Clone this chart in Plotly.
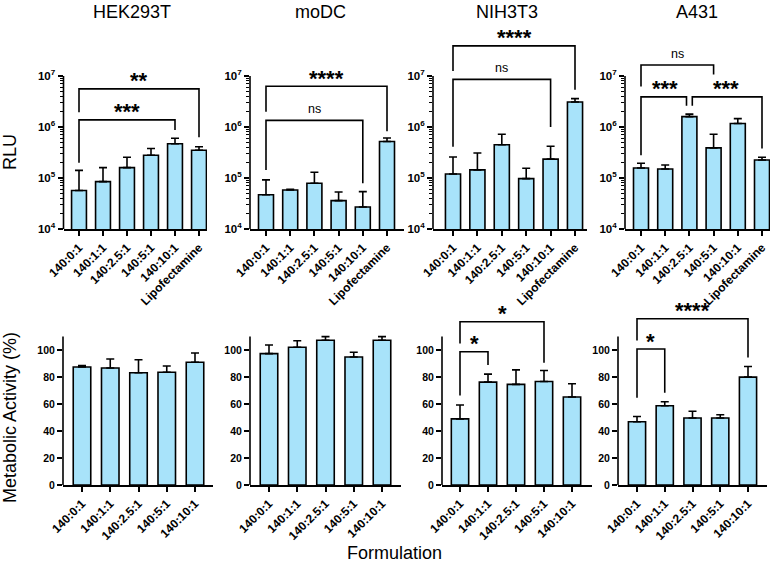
import math
import plotly.graph_objects as go

W, H = 780, 566

# ---------------- data ----------------
cells = ["HEK293T", "moDC", "NIH3T3", "A431"]
formulations_top = ["140:0:1", "140:1:1", "140:2.5:1", "140:5:1", "140:10:1", "Lipofectamine"]
formulations_bottom = ["140:0:1", "140:1:1", "140:2.5:1", "140:5:1", "140:10:1"]

# transfection (RLU), mean and upper SD
rlu_hek = [5.7e4, 8.5e4, 1.6e5, 2.8e5, 4.7e5, 3.5e5]
rlu_hek_sd = [8.4e4, 7.5e4, 9.5e4, 1.0e5, 1.3e5, 6.0e4]
rlu_modc = [4.7e4, 5.8e4, 7.9e4, 3.6e4, 2.7e4, 5.2e5]
rlu_modc_sd = [4.5e4, 2.0e3, 5.1e4, 1.7e4, 2.7e4, 9.0e4]
rlu_nih = [1.2e5, 1.44e5, 4.5e5, 9.7e4, 2.35e5, 3.1e6]
rlu_nih_sd = [1.38e5, 1.66e5, 2.7e5, 5.8e4, 1.85e5, 5.0e5]
rlu_a431 = [1.57e5, 1.5e5, 1.6e6, 3.9e5, 1.17e6, 2.25e5]
rlu_a431_sd = [3.8e4, 3.0e4, 1.9e5, 3.3e5, 2.9e5, 3.0e4]

# metabolic activity (%), mean and upper SD
ma_hek = [87.4, 86.7, 83.2, 83.5, 90.9]
ma_hek_sd = [1.0, 6.6, 9.6, 4.6, 6.9]
ma_modc = [97.3, 102.0, 107.2, 94.8, 107.2]
ma_modc_sd = [6.4, 4.9, 2.7, 3.5, 2.7]
ma_nih = [49.0, 76.2, 74.5, 76.7, 65.2]
ma_nih_sd = [10.3, 5.9, 10.8, 8.1, 9.8]
ma_a431 = [46.8, 58.7, 49.6, 49.6, 79.9]
ma_a431_sd = [3.9, 3.0, 5.0, 2.4, 7.9]

# significance brackets: (bar i, bar j, label, bracket level, left leg end, right leg end)
sig_rlu_hek = [(0, 5, "**", 5.6e6, 1.95e6, 6.3e5), (0, 4, "***", 1.38e6, 2.0e5, 8.7e5)]
sig_rlu_modc = [(0, 5, "****", 6.3e6, 2.0e6, 8.3e5), (0, 4, "ns", 1.35e6, 1.43e5, 7.9e4)]
sig_rlu_nih = [(0, 5, "****", 3.9e7, 1.26e7, 5.4e6), (0, 4, "ns", 8.6e6, 4.1e5, 1.0e6)]
sig_rlu_a431 = [(0, 3, "ns", 1.64e7, 6.2e6, 1.07e7), (0, 2, "***", 3.9e6, 2.8e5, 2.6e6),
                (2, 5, "***", 3.9e6, 2.6e6, 3.8e5)]
sig_ma_hek = []
sig_ma_modc = []
sig_ma_nih = [(0, 3, "*", 120.9, 104.9, 90.6), (0, 1, "*", 98.7, 66.3, 88.9)]
sig_ma_a431 = [(0, 4, "****", 123.2, 107.0, 94.5), (0, 1, "*", 100.7, 64.6, 68.4)]

rlu_ticks = [1e4, 1e5, 1e6, 1e7]
rlu_ticktext = ["10<sup>4</sup>", "10<sup>5</sup>", "10<sup>6</sup>", "10<sup>7</sup>"]
ma_ticks = [0, 20, 40, 60, 80, 100]

# ---------------- styling / layout ----------------
FONT = "Liberation Sans, Arial, sans-serif"
FILL = "#a8e3fa"
LW = 1.6

top_geo = [(63.5, 207, 79, 199), (250, 404, 266, 387), (433, 587, 453, 575), (625, 770, 641, 762)]
bot_geo = [(63, 213, 82, 195), (250, 401, 269, 382), (442, 592, 460, 572), (618, 767, 637, 748)]
top_y_px = (229, 25)       # bottom/top pixel of the top-row y range [1e4, 1e8]
bot_y_px = (485, 290.6)    # bottom/top pixel of the bottom-row y range [0, 144]
top_range = [4, 8]
bot_range = [0, 144]
bot_axis_top = 110

panels = [
    (rlu_hek, rlu_hek_sd, sig_rlu_hek, formulations_top, top_geo[0], "top"),
    (rlu_modc, rlu_modc_sd, sig_rlu_modc, formulations_top, top_geo[1], "top"),
    (rlu_nih, rlu_nih_sd, sig_rlu_nih, formulations_top, top_geo[2], "top"),
    (rlu_a431, rlu_a431_sd, sig_rlu_a431, formulations_top, top_geo[3], "top"),
    (ma_hek, ma_hek_sd, sig_ma_hek, formulations_bottom, bot_geo[0], "bot"),
    (ma_modc, ma_modc_sd, sig_ma_modc, formulations_bottom, bot_geo[1], "bot"),
    (ma_nih, ma_nih_sd, sig_ma_nih, formulations_bottom, bot_geo[2], "bot"),
    (ma_a431, ma_a431_sd, sig_ma_a431, formulations_bottom, bot_geo[3], "bot"),
]

# horizontal nudges of bracket legs that share a bar
leg_nudge = {(3, 0, 2): (0.0, -0.12), (3, 2, 5): (0.12, 0.0)}

fig = go.Figure()
layout = dict(
    width=W, height=H, margin=dict(l=0, r=0, t=0, b=0, autoexpand=False),
    paper_bgcolor="white", plot_bgcolor="white", showlegend=False,
    font=dict(family=FONT, color="black"),
)
shapes = []
annotations = []

for k, (vals, sd, sigs, cats, geo, row) in enumerate(panels):
    n = k + 1
    sfx = "" if n == 1 else str(n)
    xa, ya = "x" + sfx, "y" + sfx
    left, right, b0, bN = geo
    ncat = len(cats)
    s = (bN - b0) / (ncat - 1)
    xr = [-(b0 - left) / s, (ncat - 1) + (right - bN) / s]
    xs = list(range(ncat))
    fig.add_trace(go.Bar(
        x=xs, y=vals, width=0.62, xaxis=xa, yaxis=ya,
        marker=dict(color=FILL, line=dict(color="black", width=LW)),
        error_y=dict(type="data", array=sd, arrayminus=[0] * ncat, symmetric=False,
                     color="black", thickness=LW, width=4),
        hoverinfo="skip",
    ))
    layout["xaxis" + sfx] = dict(
        domain=[left / W, right / W], range=xr, anchor=ya,
        tickmode="array", tickvals=xs, ticktext=cats, tickangle=-45,
        ticks="outside", ticklen=5, tickwidth=LW, tickcolor="black",
        showline=True, linewidth=LW, linecolor="black",
        showgrid=False, zeroline=False,
        tickfont=dict(family=FONT, size=12, color="black", weight="bold"),
    )
    if row == "top":
        yb, yt = top_y_px
        layout["yaxis" + sfx] = dict(
            domain=[1 - yb / H, 1 - yt / H], type="log", range=top_range, anchor=xa,
            tickmode="array", tickvals=rlu_ticks, ticktext=rlu_ticktext,
            ticks="outside", ticklen=5, tickwidth=LW, tickcolor="black",
            minor=dict(ticks="outside", ticklen=3, tickwidth=1, tickcolor="black",
                       tickmode="array",
                       tickvals=[m * 10 ** e for e in (4, 5, 6) for m in range(2, 10)]),
            showline=False, showgrid=False, zeroline=False,
            tickfont=dict(family=FONT, size=11.5, color="black", weight="bold"),
        )
        axis_top_frac = (math.log10(rlu_ticks[-1]) - top_range[0]) / (top_range[1] - top_range[0])
    else:
        yb, yt = bot_y_px
        layout["yaxis" + sfx] = dict(
            domain=[1 - yb / H, 1 - yt / H], range=bot_range, anchor=xa,
            tickmode="array", tickvals=ma_ticks,
            ticks="outside", ticklen=5, tickwidth=LW, tickcolor="black",
            showline=False, showgrid=False, zeroline=False,
            tickfont=dict(family=FONT, size=10.5, color="black", weight="bold"),
        )
        axis_top_frac = (bot_axis_top - bot_range[0]) / (bot_range[1] - bot_range[0])
    # y axis line (stops at the top tick)
    shapes.append(dict(type="line", xref=f"{xa} domain", yref=f"{ya} domain",
                       x0=0, x1=0, y0=0, y1=axis_top_frac,
                       line=dict(color="black", width=LW)))
    # significance brackets
    for (i, j, lab, lvl, lend, rend) in sigs:
        di, dj = leg_nudge.get((k, i, j), (0.0, 0.0))
        fig.add_trace(go.Scatter(
            x=[i + di, i + di, j + dj, j + dj], y=[lend, lvl, lvl, rend],
            mode="lines", line=dict(color="black", width=LW),
            xaxis=xa, yaxis=ya, hoverinfo="skip",
        ))
        ypos = math.log10(lvl) if row == "top" else lvl
        if lab == "ns":
            annotations.append(dict(x=(i + j) / 2, y=ypos, xref=xa, yref=ya, text="ns",
                                    showarrow=False, yanchor="middle", yshift=11,
                                    font=dict(family=FONT, size=12.5, color="black")))
        else:
            annotations.append(dict(x=(i + j) / 2, y=ypos, xref=xa, yref=ya, text=lab,
                                    showarrow=False, yanchor="middle", yshift=8,
                                    font=dict(family=FONT, size=22, color="black",
                                              weight="bold")))

# panel titles
title_x = [132, 320, 507, 697]
for name, tx in zip(cells, title_x):
    annotations.append(dict(x=tx / W, y=1 - 12 / H, xref="paper", yref="paper", text=name,
                            showarrow=False, xanchor="center", yanchor="middle",
                            font=dict(family=FONT, size=18, color="black")))

annotations.append(dict(x=10 / W, y=1 - 152 / H, xref="paper", yref="paper", text="RLU",
                        textangle=-90, showarrow=False, xanchor="center", yanchor="middle",
                        font=dict(family=FONT, size=18, color="black")))
annotations.append(dict(x=10 / W, y=1 - 418 / H, xref="paper", yref="paper",
                        text="Metabolic Activity (%)", textangle=-90, showarrow=False,
                        xanchor="center", yanchor="middle",
                        font=dict(family=FONT, size=18, color="black")))
annotations.append(dict(x=394 / W, y=1 - 553 / H, xref="paper", yref="paper",
                        text="Formulation", showarrow=False, xanchor="center", yanchor="middle",
                        font=dict(family=FONT, size=18, color="black")))

layout["shapes"] = shapes
layout["annotations"] = annotations
fig.update_layout(**layout)
fig.write_html("out.html", config={"displayModeBar": False},
               post_script="document.body.style.margin='0';document.body.style.overflow='hidden';")
